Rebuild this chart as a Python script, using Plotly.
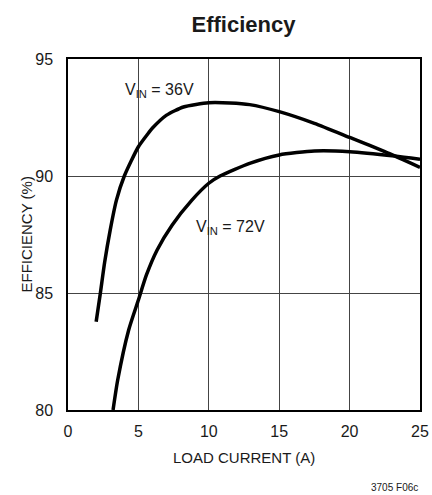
import plotly.graph_objects as go

# Data
x_36v = [2.0, 2.3, 2.6, 3.0, 3.44, 4.0, 5.0, 5.73, 6.0, 7.0, 8.2, 10.0, 11.5, 12.9, 15.0, 17.5, 20.0, 22.5, 25.0]
y_36v = [83.77, 85.0, 86.3, 87.7, 88.97, 90.0, 91.25, 91.85, 92.05, 92.6, 92.95, 93.13, 93.12, 93.05, 92.75, 92.25, 91.65, 91.04, 90.37]

x_72v = [3.2, 3.53, 4.31, 5.0, 5.57, 6.33, 7.39, 8.8, 10.0, 10.8, 12.9, 15.0, 17.5, 20.0, 23.2, 25.0]
y_72v = [80.0, 81.28, 83.42, 84.7, 85.77, 86.84, 87.9, 88.97, 89.69, 90.0, 90.54, 90.9, 91.07, 91.04, 90.85, 90.71]

x_ticks = [0, 5, 10, 15, 20, 25]
y_ticks = [80, 85, 90, 95]

FONT = "Liberation Sans, Arial, sans-serif"

fig = go.Figure()
for xs, ys in [(x_36v, y_36v), (x_72v, y_72v)]:
    fig.add_trace(go.Scatter(x=xs, y=ys, mode="lines",
                             line=dict(color="black", width=3.5, shape="spline", smoothing=0.6),
                             showlegend=False, hoverinfo="skip", cliponaxis=True))

fig.update_layout(
    width=432, height=495,
    margin=dict(l=68, r=12, t=59, b=85, autoexpand=False),
    paper_bgcolor="white", plot_bgcolor="white",
    font=dict(family=FONT, color="#1a1a1a", size=16),
    title=dict(text="<b>Efficiency</b>", x=0.5635, xanchor="center", y=0.95, yanchor="middle",
               font=dict(family=FONT, size=22, color="#1a1a1a")),
    xaxis=dict(range=[0, 25], tickvals=x_ticks, showgrid=True, gridcolor="#444", gridwidth=1,
               zeroline=False, showline=True, linecolor="black", linewidth=1.5, mirror=True,
               automargin=False,
               ticks="", ticklabelstandoff=6, tickfont=dict(size=16)),
    yaxis=dict(range=[80, 95], tickvals=y_ticks, showgrid=True, gridcolor="#444", gridwidth=1,
               zeroline=False, showline=True, linecolor="black", linewidth=1.5, mirror=True,
               automargin=False,
               ticks="", ticklabelstandoff=10, tickfont=dict(size=16)),
    annotations=[
        dict(x=3.94, y=93.65, xref="x", yref="y", text="V<sub>IN</sub> = 36V", showarrow=False,
             xanchor="left", yanchor="middle", font=dict(size=16)),
        dict(x=8.92, y=87.8, xref="x", yref="y", text="V<sub>IN</sub> = 72V", showarrow=False,
             xanchor="left", yanchor="middle", font=dict(size=16)),
        dict(x=0.5, y=-0.134, xref="paper", yref="paper", text="LOAD CURRENT (A)", showarrow=False,
             xanchor="center", yanchor="middle", font=dict(size=15)),
        dict(x=-0.1165, y=0.5, xref="paper", yref="paper", text="EFFICIENCY (%)", showarrow=False,
             xanchor="center", yanchor="middle", textangle=-90, font=dict(size=15)),
        dict(x=1.0, y=-0.222, xref="paper", yref="paper", text="3705 F06c", showarrow=False,
             xanchor="right", yanchor="middle", font=dict(size=10)),
    ],
)

fig.write_html("out.html", config={"displayModeBar": False},
               post_script="document.body.style.margin='0';document.body.style.overflow='hidden';")
